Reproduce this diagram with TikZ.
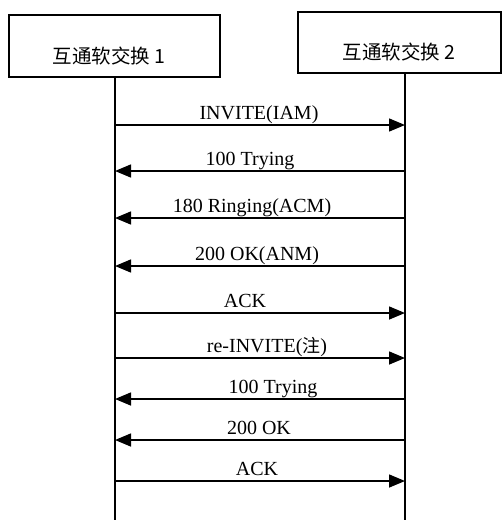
\documentclass[tikz,border=0pt]{standalone}
\usepackage{fontspec}
\setmainfont{Liberation Serif}
\newfontfamily\cjk{Noto Sans CJK SC}
\usetikzlibrary{arrows.meta}
\begin{document}
\begin{tikzpicture}[x=1pt,y=-1pt,
  life/.style={line width=1.2pt},
  msg/.style={line width=1.5pt,-{Triangle[length=16pt,width=13pt]}},
  lbl/.style={font=\fontsize{20}{20}\selectfont,anchor=base,inner sep=0pt}]
\useasboundingbox (0,0) rectangle (502,520);
% entity boxes
\draw[line width=1.3pt] (9,15) rectangle (220,77);
\draw[line width=1.3pt] (298,12) rectangle (501,73);
\node[inner sep=0pt] (e1) at (109,56) {\cjk\fontsize{19.5}{19.5}\selectfont 互通软交换 1};
\node[inner sep=0pt] (e2) at (399,52) {\cjk\fontsize{19.5}{19.5}\selectfont 互通软交换 2};
% lifelines
\coordinate (t1) at (115,77);
\coordinate (t2) at (405,73);
\coordinate (b1) at (115,520);
\coordinate (b2) at (405,520);
\draw[life] (t1) -- (b1);
\draw[life] (t2) -- (b2);
% messages
\foreach \y/\n in {125/1,171/2,218/3,266/4,313/5,358/6,399/7,440/8,481/9}{
  \coordinate (l\n) at (115,\y);
  \coordinate (r\n) at (405,\y);
}
\draw[msg] (l1) -- (r1);
\node[lbl] (m1) at (259,119) {INVITE(IAM)};
\draw[msg] (r2) -- (l2);
\node[lbl] (m2) at (250,165) {100 Trying};
\draw[msg] (r3) -- (l3);
\node[lbl] (m3) at (252,212) {180 Ringing(ACM)};
\draw[msg] (r4) -- (l4);
\node[lbl] (m4) at (257,260) {200 OK(ANM)};
\draw[msg] (l5) -- (r5);
\node[lbl] (m5) at (245,307) {ACK};
\draw[msg] (l6) -- (r6);
\node[lbl] (m6) at (267,352) {re-INVITE({\cjk\fontsize{18}{18}\selectfont 注})};
\draw[msg] (r7) -- (l7);
\node[lbl] (m7) at (273,393) {100 Trying};
\draw[msg] (r8) -- (l8);
\node[lbl] (m8) at (259,434) {200 OK};
\draw[msg] (l9) -- (r9);
\node[lbl] (m9) at (257,475) {ACK};
\end{tikzpicture}
\end{document}
